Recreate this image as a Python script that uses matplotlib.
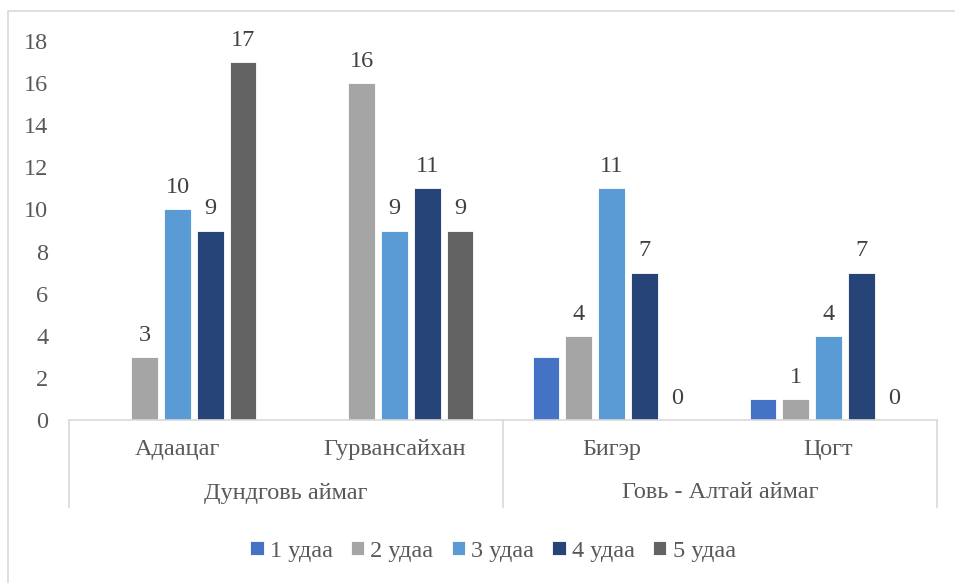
import numpy as np
import matplotlib
matplotlib.use('Agg')
import matplotlib.pyplot as plt
from matplotlib.patches import Rectangle
from matplotlib.lines import Line2D

plt.rcParams['font.family'] = ['Liberation Serif', 'DejaVu Serif']

# data
soums = ['Адаацаг', 'Гурвансайхан', 'Бигэр', 'Цогт']
aimags = ['Дундговь аймаг', 'Говь - Алтай аймаг']
series = ['1 удаа', '2 удаа', '3 удаа', '4 удаа', '5 удаа']
v1 = [0, 0, 3, 1]
v2 = [3, 16, 4, 1]
v3 = [10, 9, 11, 4]
v4 = [9, 11, 7, 7]
v5 = [17, 9, 0, 0]
values = [v1, v2, v3, v4, v5]
colors = ['#4472C4', '#A5A5A5', '#5B9BD5', '#264478', '#636363']
show_labels = [False, True, True, True, True]

FS = 17.5
W, H = 955, 583
fig = plt.figure(figsize=(W / 100, H / 100), dpi=100)

# outer chart frame
fig.add_artist(Rectangle((8 / W, -0.2), 2, 1.2 - 11 / H, transform=fig.transFigure,
                         fill=False, edgecolor='#d9d9d9', linewidth=1.2))

x0, x1 = 69, 937
y0, y1 = 420, 41
ax = fig.add_axes([x0 / W, 1 - y0 / H, (x1 - x0) / W, (y0 - y1) / H])

x = np.arange(len(soums))
bw = 0.12
pitch = 0.152
for j, (name, vals) in enumerate(zip(series, values)):
    pos = x + (j - 2) * pitch
    ax.bar(pos, vals, bw, color=colors[j], label=name,
           edgecolor='white', linewidth=0.6)
    if show_labels[j]:
        for p, v in zip(pos, vals):
            ax.annotate(str(v), (p, v), xytext=(0, 8), textcoords='offset points',
                        ha='center', va='bottom', fontsize=FS, color='#404040')

ax.set_xlim(-0.5, 3.5)
ax.set_ylim(0, 18)
ax.set_yticks(range(0, 19, 2))
ax.tick_params(axis='y', length=0, labelsize=FS, labelcolor='#595959', pad=15)
ax.set_xticks([])
for s in ['top', 'right', 'left']:
    ax.spines[s].set_visible(False)
ax.spines['bottom'].set_color('#d9d9d9')
ax.spines['bottom'].set_linewidth(1.2)

# category labels and separators
trans = ax.get_xaxis_transform()
for i, s in enumerate(soums):
    ax.text(i, 1 - (450 - y1) / (y0 - y1), s, transform=trans, ha='center', va='center',
            fontsize=FS, color='#595959')
for k, a in enumerate(aimags):
    ax.text(0.5 + 2 * k, 1 - (493 - y1) / (y0 - y1), a, transform=trans, ha='center',
            va='center', fontsize=FS, color='#595959')
ybot = 1 - (507 - y1) / (y0 - y1)
for xs in [-0.5, 1.5, 3.5]:
    ax.add_line(Line2D([xs, xs], [0, ybot], transform=trans, color='#d9d9d9',
                       linewidth=1.2, clip_on=False))

fig.legend(loc='center', bbox_to_anchor=(493 / W, 1 - 551 / H), ncol=5, frameon=False,
           fontsize=FS, handlelength=0.55, handleheight=0.55, handletextpad=0.25,
           columnspacing=0.75, labelcolor='#595959')

fig.savefig('out.png', dpi=100)
